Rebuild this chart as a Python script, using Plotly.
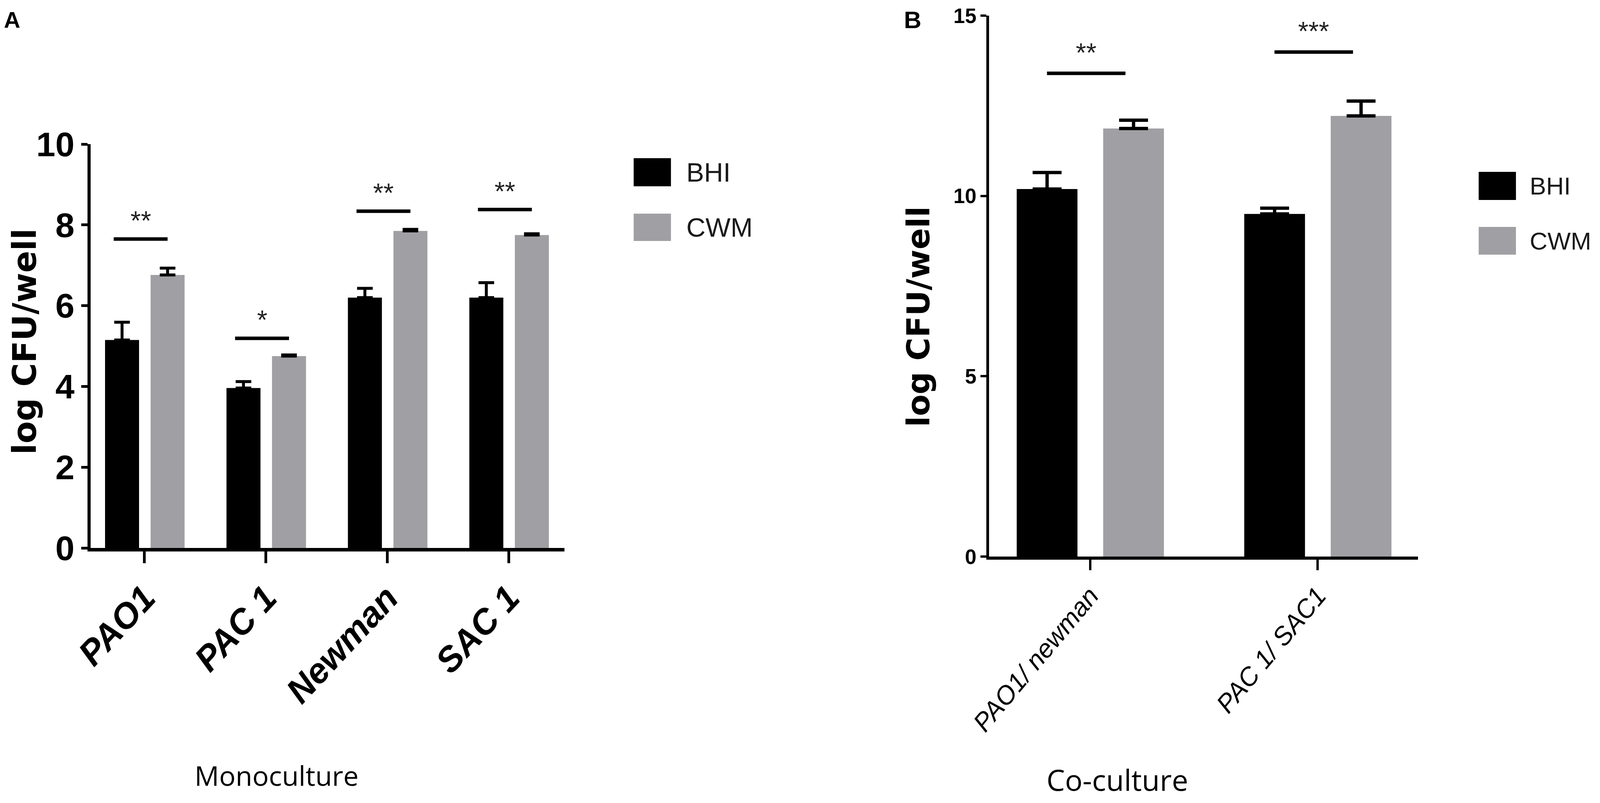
import plotly.graph_objects as go

# panel A: monoculture
mono_strains = ["PAO1", "PAC 1", "Newman", "SAC 1"]
mono_bhi = [5.15, 3.96, 6.20, 6.20]
mono_bhi_err = [0.44, 0.16, 0.23, 0.37]
mono_cwm = [6.76, 4.75, 7.85, 7.75]
mono_cwm_err = [0.17, 0.03, 0.04, 0.03]
mono_sig_y = [7.65, 5.19, 8.34, 8.38]
mono_sig_txt = ["**", "*", "**", "**"]

# panel B: co-culture
co_strains = ["PAO1/ newman", "PAC 1/ SAC1"]
co_bhi = [10.19, 9.50]
co_bhi_err = [0.46, 0.16]
co_cwm = [11.87, 12.22]
co_cwm_err = [0.23, 0.41]
co_sig_y = [13.4, 13.99]
co_sig_txt = ["**", "***"]

media = ["BHI", "CWM"]
colors = ["#000000", "#a0a0a4"]

# the page is shot 4096 wide with an 8px body margin; layout below is
# measured on the 4550x2056 reference and mapped onto that
FW, FH = 4088, 2048
SX = 4096 / 4550
K = 0.94  # font scale

def px(x):
    return max(0, (x * SX - 8) / FW)

def py(y):
    return 1 - (y - 8) / FH

fig = go.Figure()

def add_bars(cats, vals, errs, xa, ya, color, off, wid, thick, cap):
    fig.add_trace(go.Bar(
        x=cats, y=vals, xaxis=xa, yaxis=ya,
        marker=dict(color=color, line=dict(width=0)),
        offset=off, width=wid, showlegend=False,
        error_y=dict(type="data", array=errs, arrayminus=[0] * len(errs),
                     symmetric=False, color="black", thickness=thick, width=cap),
    ))

add_bars(mono_strains, mono_bhi, mono_bhi_err, "x", "y", colors[0], -0.325, 0.28, 7.5, 20)
add_bars(mono_strains, mono_cwm, mono_cwm_err, "x", "y", colors[1], 0.05, 0.28, 7.5, 20)
add_bars(co_strains, co_bhi, co_bhi_err, "x2", "y2", colors[0], -0.323, 0.267, 8.5, 37)
add_bars(co_strains, co_cwm, co_cwm_err, "x2", "y2", colors[1], 0.057, 0.267, 8.5, 37)

shapes = []
annotations = []
star_font = dict(family="Liberation Sans, Arial", size=round(72 * K), color="#222")

# significance bars
for i, (yv, t) in enumerate(zip(mono_sig_y, mono_sig_txt)):
    shapes.append(dict(type="line", xref="x", yref="y", x0=i - 0.254, x1=i + 0.19,
                       y0=yv, y1=yv, line=dict(color="black", width=9)))
    annotations.append(dict(x=i - 0.032, y=yv, xref="x", yref="y", text=t, showarrow=False,
                            xanchor="center", yanchor="middle", yshift=48, font=star_font))
for i, (yv, t) in enumerate(zip(co_sig_y, co_sig_txt)):
    shapes.append(dict(type="line", xref="x2", yref="y2", x0=i - 0.19, x1=i + 0.155,
                       y0=yv, y1=yv, line=dict(color="black", width=9)))
    annotations.append(dict(x=i - 0.018, y=yv, xref="x2", yref="y2", text=t, showarrow=False,
                            xanchor="center", yanchor="middle", yshift=54, font=star_font))

# hand-made legends (large swatches)
def legend(x0, x1, boxes, tx, size):
    for (y0, y1), name, c in zip(boxes, media, colors):
        shapes.append(dict(type="rect", xref="paper", yref="paper",
                           x0=px(x0), x1=px(x1), y0=py(y1), y1=py(y0),
                           fillcolor=c, line=dict(width=0)))
        annotations.append(dict(x=px(tx), y=py((y0 + y1) / 2), xref="paper", yref="paper",
                                text=name, showarrow=False, xanchor="left", yanchor="middle",
                                font=dict(family="Liberation Sans, Arial",
                                          size=size, color="#1a1a1a")))

legend(1802, 1908, [(405, 477), (547, 617)], 1950, 68)
legend(4205, 4311, [(440, 512), (581, 652)], 4348, 63)

title_font = dict(family="DejaVu Sans, Arial", size=round(88 * K), color="black", weight="bold")
annotations += [
    dict(x=px(70), y=py(875), xref="paper", yref="paper", text="log CFU/well",
         textangle=-90, showarrow=False, xanchor="center", yanchor="middle", font=title_font),
    dict(x=px(2612), y=py(811), xref="paper", yref="paper", text="log CFU/well",
         textangle=-90, showarrow=False, xanchor="center", yanchor="middle",
         font=dict(title_font, size=round(86 * K))),
    dict(x=px(786), y=py(1985), xref="paper", yref="paper", text="Monoculture",
         showarrow=False, xanchor="center", yanchor="middle",
         font=dict(family="Open Sans", size=round(74 * K), color="black")),
    dict(x=px(3178), y=py(1996), xref="paper", yref="paper", text="Co-culture",
         showarrow=False, xanchor="center", yanchor="middle",
         font=dict(family="Open Sans", size=round(80 * K), color="black")),
    dict(x=0, y=py(50), xref="paper", yref="paper", text="A", showarrow=False,
         xanchor="left", yanchor="middle",
         font=dict(family="Liberation Sans, Arial", size=round(62 * K), color="black", weight="bold")),
    dict(x=px(2568), y=py(50), xref="paper", yref="paper", text="B", showarrow=False,
         xanchor="left", yanchor="middle",
         font=dict(family="Liberation Sans, Arial", size=round(66 * K), color="black", weight="bold")),
]

axis_common = dict(showgrid=False, zeroline=False, showline=True, linecolor="black",
                   ticks="outside", tickcolor="black", fixedrange=True, automargin=False)

fig.update_layout(
    width=FW, height=FH,
    margin=dict(l=0, r=0, t=0, b=0, autoexpand=False),
    paper_bgcolor="white", plot_bgcolor="white",
    barmode="overlay",
    showlegend=False,
    shapes=shapes,
    annotations=annotations,
    xaxis=dict(axis_common, domain=[px(258), px(1605)], anchor="y", type="category",
               range=[-0.443, 3.458], linewidth=9, ticklen=30, tickwidth=7,
               tickangle=-47,
               tickfont=dict(family="Liberation Sans, Arial", size=round(96 * K), color="black",
                             weight="bold", style="italic")),
    yaxis=dict(axis_common, domain=[py(1403), py(369)], anchor="x",
               range=[0, 10], dtick=2, linewidth=8, ticklen=16, tickwidth=7,
               tickfont=dict(family="Liberation Sans, Arial", size=round(94 * K), color="black",
                             weight="bold")),
    xaxis2=dict(axis_common, domain=[px(2813), px(4032)], anchor="y2", type="category",
                range=[-0.444, 1.44], linewidth=8, ticklen=27, tickwidth=6,
                tickangle=-50,
                tickfont=dict(family="Liberation Sans, Arial", size=round(70 * K), color="black",
                              style="italic")),
    yaxis2=dict(axis_common, domain=[py(1425), py(40)], anchor="x2",
                range=[0, 15], dtick=5, linewidth=7, ticklen=15, tickwidth=6,
                tickfont=dict(family="Liberation Sans, Arial", size=round(56 * K), color="black",
                              weight="bold")),
)

fig.write_html("out.html")
